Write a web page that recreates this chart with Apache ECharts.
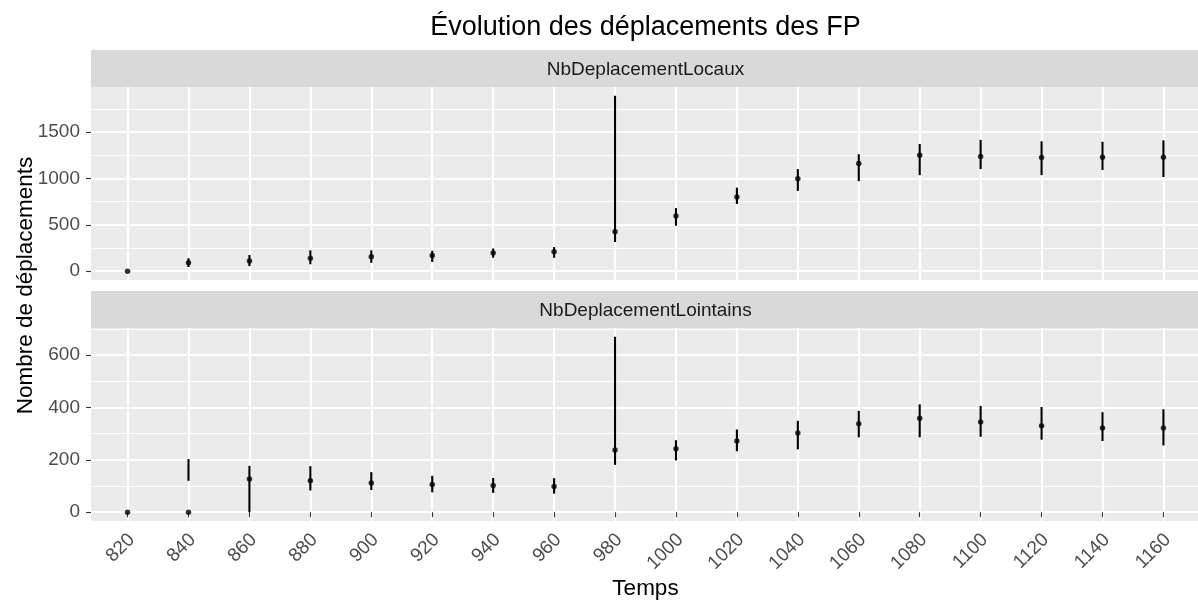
<!DOCTYPE html>
<html>
<head>
<meta charset="utf-8">
<script src="https://cdn.jsdelivr.net/npm/echarts@6/dist/echarts.min.js"></script>
<style>
  html, body { margin: 0; padding: 0; background: #ffffff; }
  #chart { width: 1198px; height: 606px; }
</style>
</head>
<body>
<div id="chart"></div>
<script>
// Time steps (x axis, one category each)
const temps = [820, 840, 860, 880, 900, 920, 940, 960, 980, 1000, 1020, 1040, 1060, 1080, 1100, 1120, 1140, 1160];

// Local moves: mean with min / max range
const locauxMoy = [0, 90, 110, 140, 155, 170, 195, 210, 425, 595, 800, 995, 1160, 1250, 1235, 1225, 1228, 1228];
const locauxMin = [0, 45, 55, 75, 90, 100, 145, 145, 315, 490, 725, 865, 970, 1035, 1100, 1035, 1090, 1015];
const locauxMax = [0, 140, 175, 225, 225, 220, 245, 260, 1890, 680, 900, 1100, 1260, 1370, 1415, 1400, 1395, 1410];

// Distant moves: mean with min / max range
const lointainsMoy = [0, 0, 127, 120, 112, 106, 102, 98, 238, 242, 272, 303, 338, 359, 345, 330, 322, 322];
const lointainsMin = [0, 120, 0, 83, 85, 76, 74, 71, 181, 198, 233, 240, 286, 286, 288, 277, 272, 255];
const lointainsMax = [0, 203, 177, 176, 153, 139, 131, 130, 670, 275, 316, 349, 387, 412, 406, 402, 382, 393];

// Facet labels and y tick labels
const facettes = ['NbDeplacementLocaux', 'NbDeplacementLointains'];
const ticksLocaux = [0, 500, 1000, 1500];
const ticksLocauxMineurs = [250, 750, 1250, 1750];
const ticksLointains = [0, 200, 400, 600];
const ticksLointainsMineurs = [100, 300, 500, 700];

const FONT = '"Liberation Sans", Arial, Helvetica, sans-serif';
const TEXT_GREY = '#4D4D4D';

// 5% padding on each side of the data range
function etendue(lo, hi) {
  const a = Math.min(...lo, ...hi);
  const b = Math.max(...lo, ...hi);
  const pad = (b - a) * 0.05;
  return [a - pad, b + pad];
}

// Discrete-style x padding: 0.6 step beyond first and last category
const pas = temps[1] - temps[0];
const xMin = temps[0] - 0.6 * pas;
const xMax = temps[temps.length - 1] + 0.6 * pas;

const panneaux = [
  { moy: locauxMoy, min: locauxMin, max: locauxMax, ticks: ticksLocaux, mineurs: ticksLocauxMineurs, top: 87 },
  { moy: lointainsMoy, min: lointainsMin, max: lointainsMax, ticks: ticksLointains, mineurs: ticksLointainsMineurs, top: 328 }
];
const PANEL_LEFT = 91;
const PANEL_H = 193;
const STRIP_H = 37;
const PANEL_W = 1198 - PANEL_LEFT + 2;

const grid = [], xAxis = [], yAxis = [], series = [], graphic = [];

panneaux.forEach((p, i) => {
  const isBottom = i === panneaux.length - 1;
  const ext = etendue(p.min.concat(p.moy), p.max.concat(p.moy));

  grid.push({
    left: PANEL_LEFT, width: PANEL_W, top: p.top, height: PANEL_H,
    containLabel: false, outerBoundsMode: 'none',
    show: true, backgroundColor: '#EBEBEB', borderWidth: 0
  });

  xAxis.push({
    type: 'value', gridIndex: i, min: xMin, max: xMax, position: 'bottom',
    axisLine: { show: false },
    axisTick: {
      show: isBottom, customValues: temps, length: 5,
      lineStyle: { color: '#333333', width: 1.1 }
    },
    axisLabel: {
      show: isBottom, customValues: temps, rotate: 45, margin: 20,
      padding: [0, -6, 0, 0],
      fontSize: 19, color: TEXT_GREY, fontFamily: FONT,
      formatter: v => String(v)
    },
    splitLine: { show: true, lineStyle: { color: '#FFFFFF', width: 2.2 } }
  });

  // minor horizontal grid lines
  yAxis.push({
    type: 'value', gridIndex: i, min: ext[0], max: ext[1], position: 'left',
    axisLine: { show: false },
    axisTick: { show: false, customValues: p.mineurs },
    axisLabel: { show: false, customValues: p.mineurs },
    splitLine: { show: true, lineStyle: { color: '#FFFFFF', width: 1.1 } }
  });
  // major horizontal grid lines, ticks and labels
  yAxis.push({
    type: 'value', gridIndex: i, min: ext[0], max: ext[1], position: 'left',
    axisLine: { show: false },
    axisTick: { show: true, customValues: p.ticks, length: 5, lineStyle: { color: '#333333', width: 1.1 } },
    axisLabel: {
      show: true, customValues: p.ticks, margin: 11, fontSize: 19, color: TEXT_GREY, fontFamily: FONT,
      formatter: v => String(v)
    },
    splitLine: { show: true, lineStyle: { color: '#FFFFFF', width: 2.2 } }
  });

  // vertical min-max ranges
  series.push({
    type: 'custom', xAxisIndex: i, yAxisIndex: 2 * i + 1, silent: true,
    data: temps.map((t, k) => [t, p.min[k], p.max[k]]),
    encode: { x: 0, y: [1, 2] },
    renderItem: (params, api) => {
      const a = api.coord([api.value(0), api.value(1)]);
      const b = api.coord([api.value(0), api.value(2)]);
      return {
        type: 'line',
        shape: { x1: a[0], y1: a[1], x2: b[0], y2: b[1] },
        style: { stroke: '#000000', lineWidth: 2.1 }
      };
    },
    z: 3
  });
  // mean points
  series.push({
    type: 'scatter', xAxisIndex: i, yAxisIndex: 2 * i + 1, silent: true,
    data: temps.map((t, k) => [t, p.moy[k]]),
    symbol: 'circle', symbolSize: 5.5,
    itemStyle: { color: '#000000' },
    z: 4
  });

  // facet strip
  const stripTop = p.top - STRIP_H;
  graphic.push({
    type: 'rect', silent: true,
    shape: { x: PANEL_LEFT, y: stripTop, width: PANEL_W, height: STRIP_H },
    style: { fill: '#D9D9D9' }
  });
  graphic.push({
    type: 'text', silent: true,
    x: PANEL_LEFT + PANEL_W / 2, y: stripTop + STRIP_H / 2 + 1,
    style: { text: facettes[i], align: 'center', verticalAlign: 'middle', fontSize: 19, fontFamily: FONT, fill: '#1A1A1A' }
  });
});

// titles
graphic.push({
  type: 'text', silent: true,
  x: PANEL_LEFT + PANEL_W / 2, y: 28,
  style: { text: 'Évolution des déplacements des FP', align: 'center', verticalAlign: 'middle', fontSize: 27, fontFamily: FONT, fill: '#000000' }
});
graphic.push({
  type: 'text', silent: true,
  x: PANEL_LEFT + PANEL_W / 2, y: 589,
  style: { text: 'Temps', align: 'center', verticalAlign: 'middle', fontSize: 22.5, fontFamily: FONT, fill: '#000000' }
});
graphic.push({
  type: 'text', silent: true,
  x: 26, y: 285.5, rotation: Math.PI / 2,
  style: { text: 'Nombre de déplacements', align: 'center', verticalAlign: 'middle', fontSize: 22.5, fontFamily: FONT, fill: '#000000' }
});

const chart = echarts.init(document.getElementById('chart'), null, { renderer: 'canvas' });
chart.setOption({
  animation: false,
  backgroundColor: '#FFFFFF',
  grid, xAxis, yAxis, series, graphic
});
</script>
</body>
</html>
